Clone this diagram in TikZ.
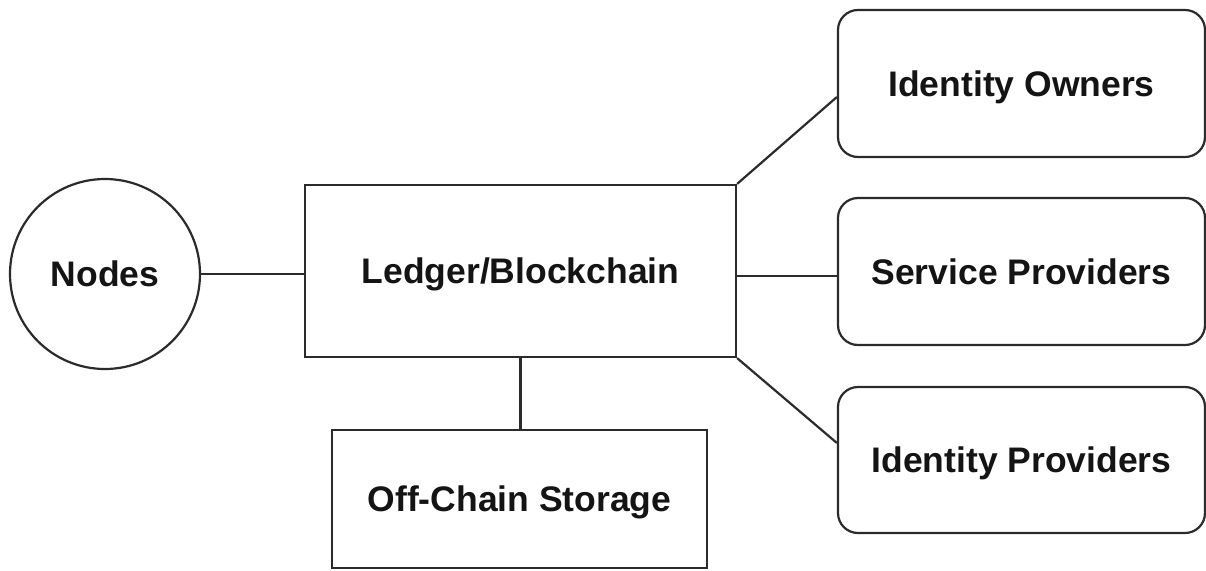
\documentclass[tikz,border=0pt]{standalone}
\usepackage{fontspec}
\setmainfont{Liberation Sans}
\definecolor{edge}{HTML}{2B2B2B}
\definecolor{ink}{HTML}{141414}
\tikzset{
  base/.style={draw=edge, line width=2.2pt, inner sep=0pt, align=center,
    text depth=0pt, text=ink, font=\fontsize{35.5}{42}\selectfont\bfseries},
  hub/.style={base, circle, minimum size=190pt},
  plainbox/.style={base, rectangle},
  rolebox/.style={base, rectangle, rounded corners=20pt,
    minimum width=367pt, minimum height=147pt},
  link/.style={draw=edge, line width=2.2pt}
}
\begin{document}
\begin{tikzpicture}[x=1pt,y=-1pt]
\useasboundingbox[fill=white] (0,0) rectangle (1206,570);

\node[hub] (nodes) at (105,274) {Nodes};
\node[plainbox, minimum width=431pt, minimum height=172pt] (ledger) at (520.5,271) {Ledger/Blockchain};
\node[plainbox, minimum width=375pt, minimum height=138pt] (offchain) at (519.5,499) {Off-Chain Storage};
\node[rolebox] (owners) at (1021.5,83.5) {Identity Owners};
\node[rolebox] (service) at (1021.5,271.5) {Service Providers};
\node[rolebox, minimum height=146pt] (idprov) at (1021.5,460) {Identity Providers};

\draw[link] (nodes.east) -- (nodes.east -| ledger.west);
\draw[link] ([yshift=-4.5pt]service.west) -- ([yshift=-4.5pt]service.west -| ledger.east);
\draw[link] (ledger.north east) -- ([yshift=-13.5pt]owners.west);
\draw[link] (ledger.south east) -- ([yshift=17pt]idprov.west);
\draw[link] (ledger.south) -- (ledger.south |- offchain.north);
\end{tikzpicture}
\end{document}
